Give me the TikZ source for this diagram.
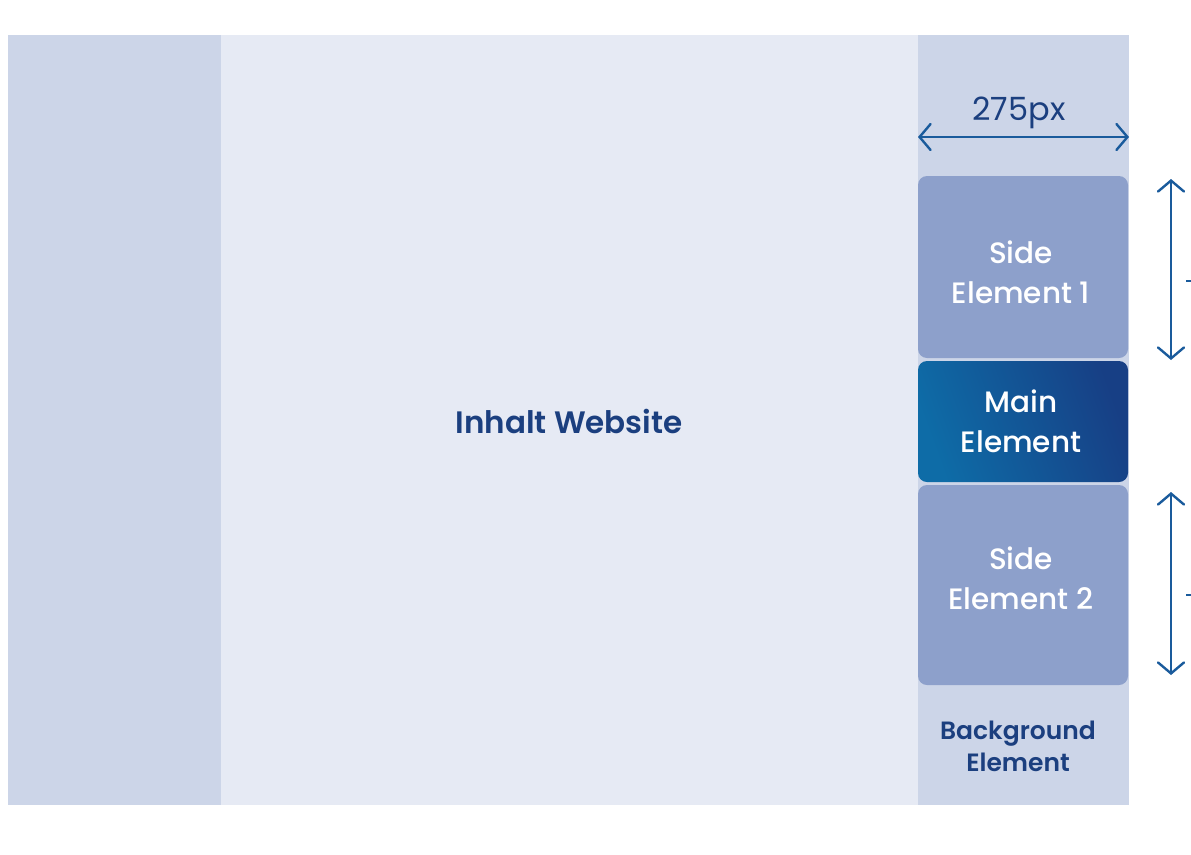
\documentclass[tikz,border=0pt]{standalone}
\usepackage{fontspec}
\setmainfont{Poppins}[BoldFont={Poppins SemiBold}]
\newfontfamily\medfont{Poppins Medium}
\usetikzlibrary{arrows.meta}
\definecolor{colside}{HTML}{CCD5E8}
\definecolor{colmid}{HTML}{E6EAF4}
\definecolor{colbox}{HTML}{8DA0CB}
\definecolor{colmainA}{HTML}{0E6CA7}
\definecolor{colmainB}{HTML}{173F85}
\definecolor{coltext}{HTML}{1B3F7F}
\definecolor{colarrow}{HTML}{1A5B9C}
\tikzset{
  eltext/.style={text=white, align=center, font=\medfont\fontsize{29.5}{40}\selectfont},
  dimarrow/.style={draw=colarrow, line width=2.4pt, line cap=round, {Straight Barb[length=11pt,width=26pt,line width=2.4pt,line cap=round]}-{Straight Barb[length=11pt,width=26pt,line width=2.4pt,line cap=round]}},
  labeltext/.style={text=coltext, font=\bfseries\fontsize{25}{32}\selectfont, align=center}
}
\begin{document}
\begin{tikzpicture}[x=1pt,y=-1pt]
\useasboundingbox (0,0) rectangle (1191,854);
\fill[white] (0,0) rectangle (1191,854);
% columns
\fill[colside] (8,35) rectangle (221,805);
\fill[colmid] (221,35) rectangle (918,805);
\fill[colside] (918,35) rectangle (1129,805);
% elements
\fill[colbox, rounded corners=9pt] (918,176) rectangle (1128,358);
\node[eltext] (s1) at (1021,272) {Side\\Element 1};
\shade[rounded corners=9pt, left color=colmainA, right color=colmainB, shading angle=110] (918,361) rectangle (1128,482);
\node[eltext] (main) at (1021,421) {Main\\Element};
\fill[colbox, rounded corners=9pt] (918,485) rectangle (1128,685);
\node[eltext] (s2) at (1021,578) {Side\\Element 2};
% labels
\node[labeltext, font=\bfseries\fontsize{31}{34}\selectfont] (inhalt) at (569,421) {Inhalt Website};
\node[labeltext] (bg) at (1018,746) {Background\\Element};
% dimension arrows
\coordinate (hl) at (918,137);
\coordinate (hr) at (1129,137);
\draw[dimarrow] (hl) -- (hr);
\node[text=coltext, font=\fontsize{32}{32}\selectfont] (w) at (1019,113) {275px};
\coordinate (v1t) at (1171,179);
\coordinate (v1b) at (1171,360);
\draw[dimarrow] (v1t) -- (v1b);
\coordinate (v2t) at (1171,492);
\coordinate (v2b) at (1171,675);
\draw[dimarrow] (v2t) -- (v2b);
% clipped labels
\coordinate (d1a) at (1186,281);
\coordinate (d1b) at (1191,281);
\draw[colarrow, line width=2.4pt] (d1a) -- (d1b);
\coordinate (d2a) at (1186,595);
\coordinate (d2b) at (1191,595);
\draw[colarrow, line width=2.4pt] (d2a) -- (d2b);
\end{tikzpicture}
\end{document}
